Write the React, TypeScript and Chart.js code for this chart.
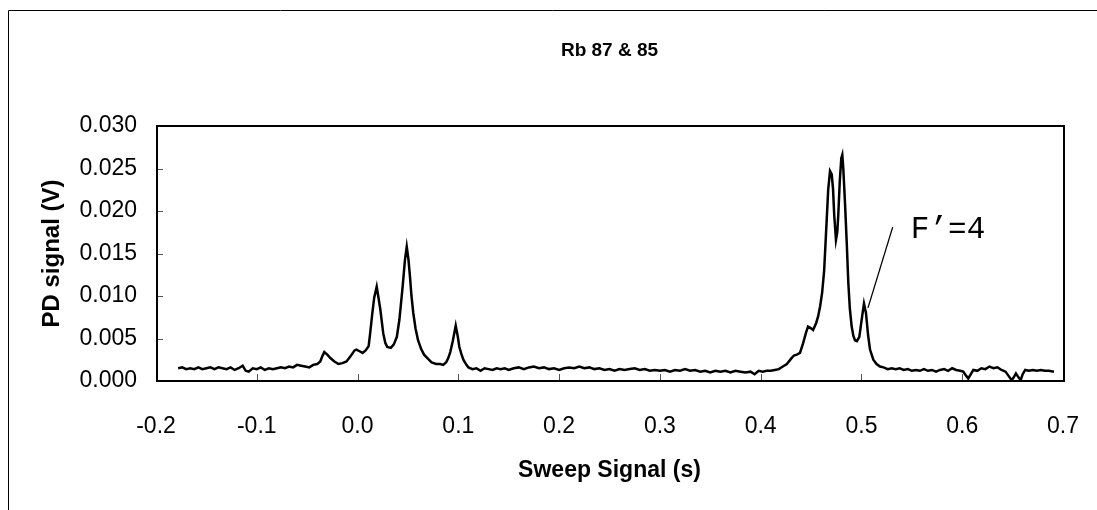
import React, { useEffect, useRef } from "react";
import { Chart, registerables } from "chart.js";

Chart.register(...registerables);

const chartTitle = "Rb 87 & 85";
const xAxisTitle = "Sweep Signal (s)";
const yAxisTitle = "PD signal (V)";
const annotationText = "F\u2019=4";

const xTicks = [-0.2, -0.1, 0.0, 0.1, 0.2, 0.3, 0.4, 0.5, 0.6, 0.7];
const yTicks = [0.0, 0.005, 0.01, 0.015, 0.02, 0.025, 0.03];

// annotation leader line (data coords) and label anchor
const leaderX = [0.5065, 0.531];
const leaderY = [0.0086, 0.0181];
const labelX = 0.549;
const labelY = 0.0168;

const sweepX = [
  -0.178, -0.174, -0.170, -0.166, -0.162, -0.158, -0.154, -0.150, -0.146, -0.142,
  -0.138, -0.134, -0.130, -0.126, -0.122, -0.118, -0.114, -0.111, -0.108, -0.104,
  -0.100, -0.096, -0.092, -0.088, -0.084, -0.080, -0.076, -0.072, -0.068, -0.064,
  -0.060, -0.056, -0.052, -0.048, -0.044, -0.040, -0.037, -0.035, -0.033, -0.030,
  -0.027, -0.023, -0.019, -0.015, -0.011, -0.007, -0.003, -0.001, 0.002, 0.005,
  0.008, 0.011, 0.0125, 0.0145, 0.0165, 0.019, 0.0205, 0.0225, 0.0255, 0.0275,
  0.0295, 0.033, 0.036, 0.039, 0.0415, 0.043, 0.0448, 0.047, 0.0488, 0.0505,
  0.052, 0.0535, 0.0553, 0.0575, 0.060, 0.063, 0.066, 0.070, 0.0735, 0.078,
  0.082, 0.085, 0.088, 0.090, 0.092, 0.0945, 0.0974, 0.0995, 0.101, 0.103,
  0.105, 0.108, 0.110, 0.114, 0.118, 0.122, 0.126, 0.130, 0.134, 0.138,
  0.142, 0.146, 0.150, 0.155, 0.160, 0.165, 0.170, 0.175, 0.180, 0.185,
  0.190, 0.195, 0.200, 0.205, 0.210, 0.215, 0.220, 0.225, 0.230, 0.235,
  0.240, 0.245, 0.250, 0.255, 0.260, 0.265, 0.270, 0.275, 0.280, 0.285,
  0.290, 0.295, 0.300, 0.305, 0.310, 0.315, 0.320, 0.325, 0.330, 0.335,
  0.340, 0.345, 0.350, 0.355, 0.360, 0.365, 0.370, 0.375, 0.380, 0.385,
  0.390, 0.394, 0.398, 0.402, 0.406, 0.410, 0.414, 0.418, 0.422, 0.426,
  0.430, 0.433, 0.436, 0.439, 0.442, 0.445, 0.447, 0.450, 0.452, 0.455,
  0.457, 0.459, 0.461, 0.463, 0.4655, 0.467, 0.4688, 0.4705, 0.4718, 0.473,
  0.4747, 0.476, 0.477, 0.4785, 0.480, 0.481, 0.482, 0.4837, 0.4855, 0.487,
  0.4885, 0.4903, 0.492, 0.4936, 0.4955, 0.4979, 0.5002, 0.5025, 0.5045, 0.5065,
  0.5085, 0.5118, 0.515, 0.5184, 0.522, 0.526, 0.530, 0.534, 0.538, 0.542,
  0.546, 0.550, 0.554, 0.558, 0.562, 0.566, 0.570, 0.574, 0.578, 0.582,
  0.586, 0.590, 0.594, 0.598, 0.601, 0.604, 0.606, 0.608, 0.611, 0.615,
  0.619, 0.623, 0.627, 0.631, 0.635, 0.639, 0.643, 0.646, 0.649, 0.651,
  0.6533, 0.656, 0.658, 0.660, 0.6625, 0.666, 0.670, 0.674, 0.678, 0.682,
  0.686, 0.691,
];

const pdSignal = [
  0.0015, 0.0016, 0.0014, 0.0015, 0.0014, 0.0016, 0.0014, 0.0015, 0.0016, 0.0014,
  0.0016, 0.0015, 0.0014, 0.0016, 0.0013, 0.0015, 0.0018, 0.0012, 0.0011, 0.0015,
  0.0014, 0.0016, 0.0013, 0.0015, 0.0014, 0.0015, 0.0016, 0.0015, 0.0017, 0.0016,
  0.0019, 0.0018, 0.0017, 0.0016, 0.0019, 0.0020, 0.0023, 0.0029, 0.0034, 0.0031,
  0.0027, 0.0023, 0.0020, 0.0021, 0.0023, 0.0029, 0.0036, 0.0037, 0.0035, 0.0033,
  0.0036, 0.0041, 0.0056, 0.0078, 0.0098, 0.0111, 0.0100, 0.0085, 0.0056, 0.0045,
  0.0040, 0.0039, 0.0043, 0.0052, 0.0072, 0.0090, 0.0112, 0.0142, 0.0158, 0.0143,
  0.0123, 0.0100, 0.0080, 0.0062, 0.0048, 0.0038, 0.0031, 0.0026, 0.0022, 0.0020,
  0.0020, 0.0019, 0.0022, 0.0027, 0.0034, 0.0047, 0.0065, 0.0052, 0.0040, 0.0032,
  0.0025, 0.0019, 0.0016, 0.0014, 0.0015, 0.0012, 0.0015, 0.0014, 0.0013, 0.0015,
  0.0014, 0.0015, 0.0013, 0.0015, 0.0016, 0.0014, 0.0016, 0.0017, 0.0015, 0.0016,
  0.0014, 0.0015, 0.0013, 0.0015, 0.0016, 0.0015, 0.0017, 0.0015, 0.0016, 0.0014,
  0.0015, 0.0013, 0.0014, 0.0012, 0.0014, 0.0013, 0.0014, 0.0015, 0.0013, 0.0014,
  0.0012, 0.0013, 0.0012, 0.0013, 0.0011, 0.0013, 0.0012, 0.0014, 0.0012, 0.0013,
  0.0011, 0.0012, 0.0010, 0.0012, 0.0011, 0.0012, 0.0010, 0.0012, 0.0011, 0.0010,
  0.0011, 0.0008, 0.0012, 0.0011, 0.0012, 0.0012, 0.0013, 0.0014, 0.0017, 0.0020,
  0.0026, 0.0030, 0.0031, 0.0033, 0.0044, 0.0057, 0.0064, 0.0062, 0.0060, 0.0068,
  0.0076, 0.0088, 0.0104, 0.0130, 0.0189, 0.0225, 0.0247, 0.0243, 0.0226, 0.0195,
  0.0166, 0.0175, 0.0195, 0.0235, 0.0262, 0.0266, 0.0250, 0.0209, 0.0160, 0.0115,
  0.0085, 0.0064, 0.0053, 0.0048, 0.0047, 0.0052, 0.0072, 0.0091, 0.0080, 0.0055,
  0.0037, 0.0025, 0.0020, 0.0017, 0.0016, 0.0014, 0.0015, 0.0014, 0.0015, 0.0013,
  0.0014, 0.0012, 0.0013, 0.0012, 0.0014, 0.0012, 0.0013, 0.0011, 0.0013, 0.0014,
  0.0012, 0.0015, 0.0013, 0.0012, 0.0011, 0.0006, 0.0003, 0.0007, 0.0013, 0.0012,
  0.0015, 0.0014, 0.0017, 0.0015, 0.0016, 0.0013, 0.0011, 0.0006, 0.0001, 0.0004,
  0.0009, 0.0004, 0.0001, 0.0008, 0.0013, 0.0012, 0.0013, 0.0012, 0.0013, 0.0012,
  0.0012, 0.0011,
];

const SANS = "'Liberation Sans', Arial, sans-serif";

const decorPlugin = {
  id: "decor",
  afterDatasetsDraw(chart: any) {
    const { ctx, chartArea: a, scales } = chart;
    const xs = scales.x;
    const ys = scales.y;
    ctx.save();
    // outer frame (clipped at the right and bottom)
    ctx.strokeStyle = "#000";
    ctx.lineWidth = 1;
    ctx.beginPath();
    ctx.moveTo(8.5, chart.height);
    ctx.lineTo(8.5, 10.5);
    ctx.lineTo(chart.width, 10.5);
    ctx.stroke();
    // inner tick marks
    ctx.strokeStyle = "#555";
    ctx.lineWidth = 1;
    ctx.beginPath();
    yTicks.forEach((v) => {
      const py = Math.round(ys.getPixelForValue(v)) + 0.5;
      ctx.moveTo(a.left, py);
      ctx.lineTo(a.left + 7, py);
    });
    xTicks.forEach((v) => {
      const px = Math.round(xs.getPixelForValue(v)) + 0.5;
      ctx.moveTo(px, a.bottom);
      ctx.lineTo(px, a.bottom - 7);
    });
    ctx.stroke();
    // plot frame
    ctx.strokeStyle = "#000";
    ctx.lineWidth = 2;
    ctx.strokeRect(a.left + 1, a.top, a.right - a.left, a.bottom - a.top);
    // annotation
    ctx.lineWidth = 1.3;
    ctx.beginPath();
    ctx.moveTo(xs.getPixelForValue(leaderX[0]), ys.getPixelForValue(leaderY[0]));
    ctx.lineTo(xs.getPixelForValue(leaderX[1]), ys.getPixelForValue(leaderY[1]));
    ctx.stroke();
    ctx.fillStyle = "#000";
    ctx.font = "31px 'Liberation Mono', 'Courier New', monospace";
    ctx.textAlign = "left";
    ctx.textBaseline = "alphabetic";
    ctx.fillText(annotationText, xs.getPixelForValue(labelX), ys.getPixelForValue(labelY));
    ctx.restore();
  },
};

export default function App() {
  const canvasRef = useRef<HTMLCanvasElement | null>(null);

  useEffect(() => {
    const canvas = canvasRef.current;
    if (!canvas) return;
    const points = sweepX.map((x, i) => ({ x, y: pdSignal[i] }));
    const chart = new Chart(canvas, {
      type: "scatter",
      data: {
        datasets: [
          {
            label: "PD signal",
            data: points,
            showLine: true,
            borderColor: "#000",
            borderWidth: 2.5,
            pointRadius: 0,
            tension: 0,
          },
        ],
      },
      options: {
        responsive: false,
        animation: false,
        layout: { padding: { left: 0, right: 34, top: 0, bottom: 0 } },
        plugins: {
          legend: { display: false },
          tooltip: { enabled: false },
          title: {
            display: true,
            text: chartTitle,
            fullSize: false,
            color: "#000",
            font: { family: SANS, size: 19, weight: "bold" },
            padding: { top: 39, bottom: 64.2 },
          },
        },
        scales: {
          x: {
            type: "linear",
            min: -0.2,
            max: 0.7,
            afterBuildTicks: (s: any) => {
              s.ticks = xTicks.map((v) => ({ value: v }));
            },
            afterFit: (s: any) => {
              s.height = 129;
              s.paddingLeft = 0;
              s.paddingRight = 0;
            },
            ticks: {
              color: "#000",
              padding: 32,
              maxRotation: 0,
              autoSkip: false,
              font: { family: SANS, size: 23 },
              callback: (v: any) => Number(v).toFixed(1),
            },
            grid: { display: false, drawTicks: false },
            border: { display: false },
            title: {
              display: true,
              text: xAxisTitle,
              color: "#000",
              font: { family: SANS, size: 23, weight: "bold" },
              padding: { top: 0, bottom: 25.2 },
            },
          },
          y: {
            type: "linear",
            min: 0,
            max: 0.03,
            afterBuildTicks: (s: any) => {
              s.ticks = yTicks.map((v) => ({ value: v }));
            },
            afterFit: (s: any) => {
              s.width = 156;
              s.paddingTop = 0;
              s.paddingBottom = 0;
            },
            ticks: {
              color: "#000",
              padding: 19,
              autoSkip: false,
              font: { family: SANS, size: 23 },
              callback: (v: any) => Number(v).toFixed(3),
            },
            grid: { display: false, drawTicks: false },
            border: { display: false },
            title: {
              display: true,
              text: yAxisTitle,
              color: "#000",
              font: { family: SANS, size: 24, weight: "bold" },
              padding: { top: 37.6, bottom: 0 },
            },
          },
        },
      },
      plugins: [decorPlugin],
    });
    return () => chart.destroy();
  }, []);

  return (
    <div style={{ position: "fixed", left: 0, top: 0, width: 1097, height: 510, background: "#fff" }}>
      <canvas ref={canvasRef} width={1097} height={510} style={{ display: "block" }} />
    </div>
  );
}
